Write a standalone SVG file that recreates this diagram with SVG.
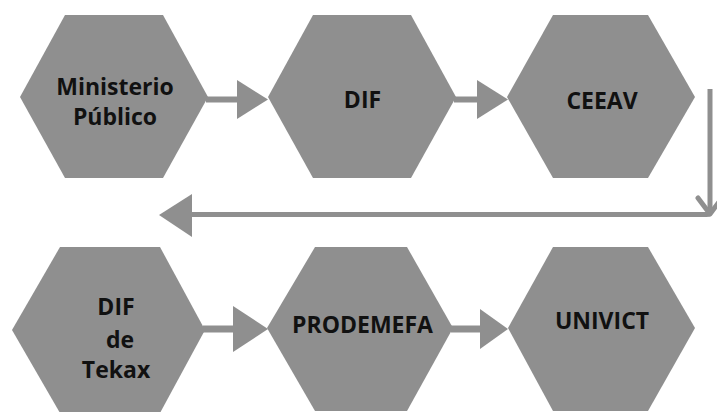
<svg xmlns="http://www.w3.org/2000/svg" width="717" height="412" viewBox="0 0 717 412">
<style>
.hex{fill:#8f8f8f}
.lbl{font-family:"Open Sans","Liberation Sans",sans-serif;font-weight:bold;font-size:23px;fill:#111;text-anchor:middle}
.shaft{fill:#8f8f8f}
.line{fill:none;stroke:#8f8f8f;stroke-width:5}
</style>
<rect width="717" height="412" fill="#fff"/>
<g id="connectors">
<rect class="shaft" x="206" y="96.5" width="33" height="6"/>
<polygon class="shaft" points="237,80 268,99.5 237,119"/>
<rect class="shaft" x="454" y="96.5" width="25" height="6"/>
<polygon class="shaft" points="477,80 508,99.5 477,119"/>
<rect class="shaft" x="203" y="325.5" width="32" height="7"/>
<polygon class="shaft" points="233,306 268,329 233,352"/>
<rect class="shaft" x="451" y="325.5" width="31" height="7"/>
<polygon class="shaft" points="480,309 508,329 480,349"/>
<path class="line" d="M710,89 V211 Q710,214.5 706.5,214.5 H188"/>
<path class="line" stroke-linecap="round" stroke-linejoin="round" d="M698,198 L710,214 L722,198"/>
<polygon class="shaft" points="192,194 159,215 192,237"/>
</g>
<g id="n1">
<polygon class="hex" points="20,97 65,15 163,15 208,97 163,178 65,178"/>
<text class="lbl" x="115" y="95">Ministerio</text>
<text class="lbl" x="115" y="125">Público</text>
</g>
<g id="n2">
<polygon class="hex" points="268,97 313,15 411,15 456,97 411,178 313,178"/>
<text class="lbl" x="362.5" y="108">DIF</text>
</g>
<g id="n3">
<polygon class="hex" points="507,97 553,15 648,15 695,97 648,178 553,178"/>
<text class="lbl" x="602" y="109">CEEAV</text>
</g>
<g id="n4">
<polygon class="hex" points="12,330 60,247 160,247 205,330 160,413 60,413"/>
<text class="lbl" x="116" y="315">DIF</text>
<text class="lbl" x="120" y="348">de</text>
<text class="lbl" x="116" y="378">Tekax</text>
</g>
<g id="n5">
<polygon class="hex" points="267,328 315,247 407,247 453,328 407,411 315,411"/>
<text class="lbl" x="362.5" y="333">PRODEMEFA</text>
</g>
<g id="n6">
<polygon class="hex" points="508,328 553,247 648,247 695,328 648,411 553,411"/>
<text class="lbl" x="602" y="329">UNIVICT</text>
</g>
</svg>
